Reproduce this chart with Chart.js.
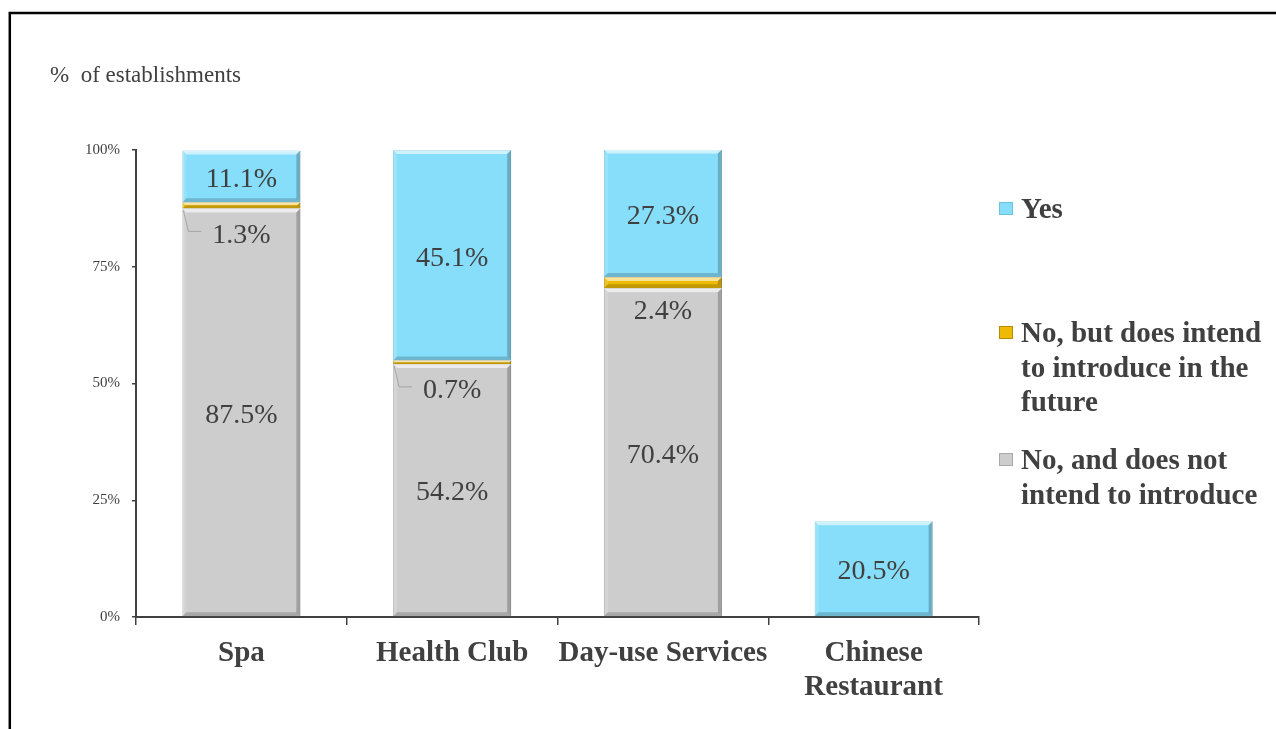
<!DOCTYPE html>
<html>
<head>
<meta charset="utf-8">
<script src="https://cdn.jsdelivr.net/npm/chart.js@4.4.1/dist/chart.umd.min.js"></script>
<style>
  html, body { margin: 0; padding: 0; background: #ffffff; overflow: hidden; }
  #wrap { position: relative; width: 1276px; height: 729px; }
</style>
</head>
<body>
<div id="wrap"><canvas id="chart" width="1276" height="729"></canvas></div>
<script>
// categories and series (% of establishments)
const categories = [['Spa'], ['Health Club'], ['Day-use Services'], ['Chinese', 'Restaurant']];
const noNotIntend = [87.5, 54.2, 70.4, null];
const noIntend = [1.3, 0.7, 2.4, null];
const yesValues = [11.1, 45.1, 27.3, 20.5];
const yTicks = [0, 25, 50, 75, 100];

const seriesNames = [
    ['No, and does not', 'intend to introduce'],
    ['No, but does intend', 'to introduce in the', 'future'],
    ['Yes']
];
const seriesColors = ['#CDCDCD', '#EDBA06', '#86DEFA'];
const seriesBorders = ['#A8A8A8', '#B88A00', '#6CC3E0'];

const TEXT = '#404040';
const SERIF = '"Liberation Serif", "Times New Roman", serif';

// frame and y-axis title
const framePlugin = {
    id: 'frame',
    beforeDraw(chart) {
        const ctx = chart.ctx;
        ctx.save();
        ctx.fillStyle = '#ffffff';
        ctx.fillRect(0, 0, chart.width, chart.height);
        ctx.strokeStyle = '#000000';
        ctx.lineWidth = 2.5;
        ctx.strokeRect(9.8, 13, 1400, 900);
        ctx.fillStyle = TEXT;
        ctx.font = '23px ' + SERIF;
        ctx.textBaseline = 'middle';
        ctx.textAlign = 'left';
        ctx.fillText('%  of establishments', 50, 76);
        ctx.restore();
    }
};

// simple bevel on each bar segment
const bevelPlugin = {
    id: 'bevel',
    afterDatasetsDraw(chart) {
        const ctx = chart.ctx;
        ctx.save();
        chart.data.datasets.forEach((ds, di) => {
            const meta = chart.getDatasetMeta(di);
            meta.data.forEach((bar, i) => {
                if (ds.data[i] == null) return;
                const p = bar.getProps(['x', 'y', 'base', 'width'], true);
                const l = p.x - p.width / 2, r = p.x + p.width / 2;
                const t = Math.min(p.y, p.base), b = Math.max(p.y, p.base);
                const bv = Math.min(4, (b - t) / 2);
                const quad = (pts, c) => {
                    ctx.beginPath();
                    ctx.moveTo(pts[0][0], pts[0][1]);
                    pts.slice(1).forEach(q => ctx.lineTo(q[0], q[1]));
                    ctx.closePath();
                    ctx.fillStyle = c;
                    ctx.fill();
                };
                quad([[l, t], [r, t], [r - bv, t + bv], [l + bv, t + bv]], 'rgba(255,255,255,0.6)');
                quad([[l, t], [l + bv, t + bv], [l + bv, b - bv], [l, b]], 'rgba(255,255,255,0.15)');
                quad([[r, t], [r, b], [r - bv, b - bv], [r - bv, t + bv]], 'rgba(0,0,0,0.22)');
                quad([[l, b], [l + bv, b - bv], [r - bv, b - bv], [r, b]], 'rgba(0,0,0,0.18)');
            });
        });
        ctx.restore();
    }
};

// value labels; thin segments get their label below with a leader line
const labelPlugin = {
    id: 'valueLabels',
    afterDatasetsDraw(chart) {
        const ctx = chart.ctx;
        ctx.save();
        ctx.font = '28px ' + SERIF;
        ctx.fillStyle = TEXT;
        ctx.textAlign = 'center';
        ctx.textBaseline = 'middle';
        chart.data.datasets.forEach((ds, di) => {
            const meta = chart.getDatasetMeta(di);
            meta.data.forEach((bar, i) => {
                const v = ds.data[i];
                if (v == null) return;
                const p = bar.getProps(['x', 'y', 'base', 'width'], true);
                const txt = v.toFixed(1) + '%';
                if (v < 5) {
                    const base = Math.max(p.y, p.base);
                    const ly = base + (v < 2 ? 27 : 23);
                    if (v < 2) {
                        const l = p.x - p.width / 2;
                        ctx.strokeStyle = '#A6A6A6';
                        ctx.lineWidth = 1;
                        ctx.beginPath();
                        ctx.moveTo(l + 1, base + 2);
                        ctx.lineTo(l + 6, ly - 4);
                        ctx.lineTo(l + 19, ly - 4);
                        ctx.stroke();
                    }
                    ctx.fillText(txt, p.x, ly);
                } else {
                    ctx.fillText(txt, p.x, (p.y + p.base) / 2 + 3);
                }
            });
        });
        ctx.restore();
    }
};

// legend on the right, top item = Yes
const legendPlugin = {
    id: 'sideLegend',
    afterDraw(chart) {
        const ctx = chart.ctx;
        const rows = [209, 333, 460];
        const order = [2, 1, 0];
        ctx.save();
        ctx.font = 'bold 29px ' + SERIF;
        ctx.textAlign = 'left';
        ctx.textBaseline = 'middle';
        order.forEach((si, k) => {
            const y0 = rows[k];
            ctx.fillStyle = seriesColors[si];
            ctx.fillRect(999, y0 - 7, 14, 13);
            ctx.strokeStyle = seriesBorders[si];
            ctx.lineWidth = 1;
            ctx.strokeRect(999.5, y0 - 6.5, 13, 12);
            ctx.fillStyle = TEXT;
            seriesNames[si].forEach((line, j) => {
                ctx.fillText(line, 1021, y0 + 2 + j * 34.5);
            });
        });
        ctx.restore();
    }
};

const seriesData = [noNotIntend, noIntend, yesValues];

new Chart(document.getElementById('chart'), {
    type: 'bar',
    data: {
        labels: categories,
        datasets: seriesData.map((d, i) => ({
            label: seriesNames[i].join(' '),
            data: d,
            backgroundColor: seriesColors[i],
            borderColor: seriesBorders[i],
            borderWidth: 1,
            categoryPercentage: 1,
            barPercentage: 0.56
        }))
    },
    options: {
        responsive: false,
        animation: false,
        layout: { padding: { top: 150, right: 297, bottom: 0, left: 0 } },
        plugins: {
            legend: { display: false },
            tooltip: { enabled: false }
        },
        scales: {
            x: {
                stacked: true,
                afterFit: (s) => { s.height = 112; },
                grid: { drawOnChartArea: false, tickLength: 8, color: TEXT, lineWidth: 1.5 },
                border: { color: TEXT, width: 2 },
                ticks: {
                    color: TEXT,
                    padding: 11,
                    maxRotation: 0,
                    autoSkip: false,
                    font: { family: SERIF, size: 29, weight: 'bold', lineHeight: 1.19 }
                }
            },
            y: {
                stacked: true,
                min: 0,
                max: 100,
                afterFit: (s) => { s.width = 136; },
                afterBuildTicks: (s) => { s.ticks = yTicks.map(v => ({ value: v })); },
                grid: { drawOnChartArea: false, tickLength: 4, color: TEXT, lineWidth: 1.5 },
                border: { color: TEXT, width: 2 },
                ticks: {
                    color: TEXT,
                    padding: 12,
                    font: { family: SERIF, size: 15 },
                    callback: (v) => v + '%'
                }
            }
        }
    },
    plugins: [framePlugin, bevelPlugin, labelPlugin, legendPlugin]
});
</script>
</body>
</html>
